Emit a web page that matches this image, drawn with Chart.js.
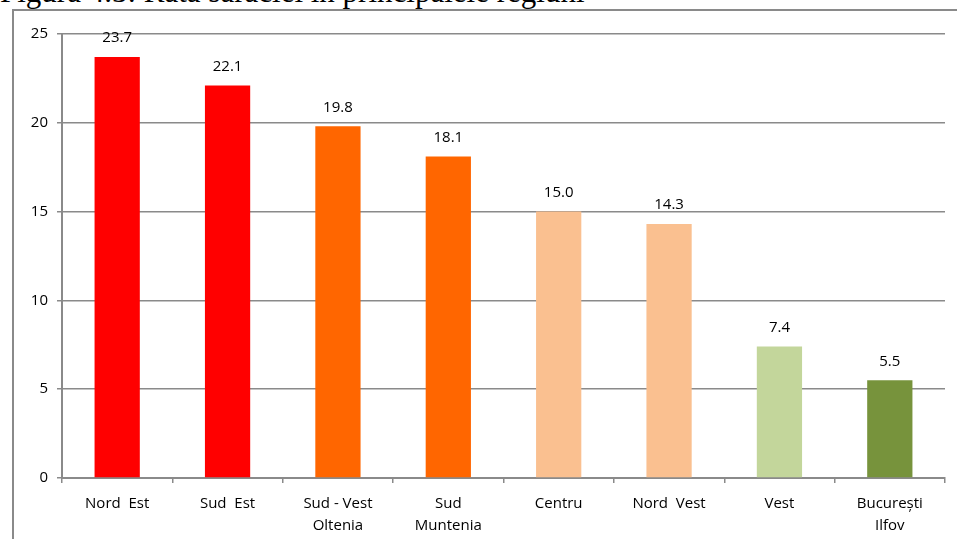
<!DOCTYPE html>
<html>
<head>
<meta charset="utf-8">
<script src="https://cdn.jsdelivr.net/npm/chart.js@4/dist/chart.umd.min.js"></script>
<style>
  html, body { margin: 0; padding: 0; background: #fff; }
  #wrap { position: relative; width: 957px; height: 539px; overflow: hidden; }
  #title { position: absolute; left: 0px; top: -24px; font-family: "Liberation Serif", "DejaVu Serif", serif; font-size: 31px; line-height: 31px; color: #000; white-space: nowrap; }
  #frame { position: absolute; left: 12px; top: 9px; width: 960px; height: 540px; border-left: 2px solid #8a8a8a; border-top: 2px solid #8a8a8a; }
  canvas { position: absolute; left: 0; top: 0; }
</style>
</head>
<body>
<div id="wrap">
  <div id="title">Figura 4.3: Rata sărăciei în principalele regiuni</div>
  <div id="frame"></div>
  <canvas id="c" width="957" height="539"></canvas>
</div>
<script>
const categories = [["Nord  Est"], ["Sud  Est"], ["Sud - Vest", "Oltenia"], ["Sud", "Muntenia"], ["Centru"], ["Nord  Vest"], ["Vest"], ["București", "Ilfov"]];
const povertyRate = [23.7, 22.1, 19.8, 18.1, 15.0, 14.3, 7.4, 5.5];
const barColors = ["#FF0000", "#FF0000", "#FF6600", "#FF6600", "#FAC090", "#FAC090", "#C3D69B", "#77933C"];
const yTicks = [0, 5, 10, 15, 20, 25];

const labelPlugin = {
  id: 'valueLabels',
  afterDatasetsDraw(chart) {
    const ctx = chart.ctx;
    const meta = chart.getDatasetMeta(0);
    ctx.save();
    ctx.font = '15px "Open Sans", "Liberation Sans", sans-serif';
    ctx.fillStyle = '#000';
    ctx.textAlign = 'center';
    ctx.textBaseline = 'middle';
    meta.data.forEach((bar, i) => {
      ctx.fillText(povertyRate[i].toFixed(1), bar.x, bar.y - 19);
    });
    ctx.restore();
  }
};

new Chart(document.getElementById('c'), {
  type: 'bar',
  data: {
    labels: categories,
    datasets: [{
      data: povertyRate,
      backgroundColor: barColors,
      borderWidth: 0,
      categoryPercentage: 1.0,
      barPercentage: 0.41
    }]
  },
  options: {
    responsive: false,
    animation: false,
    devicePixelRatio: 1,
    layout: { padding: { left: 0, right: 12, top: 34, bottom: 0 } },
    plugins: { legend: { display: false }, tooltip: { enabled: false } },
    scales: {
      x: {
        afterFit(scale) { scale.height = 61; },
        grid: { display: true, drawOnChartArea: false, drawTicks: true, tickLength: 5, color: '#8a8a8a', lineWidth: 1.5, offset: true },
        border: { display: true, color: '#8a8a8a', width: 2 },
        ticks: { color: '#000', font: { family: '"Open Sans", "Liberation Sans", sans-serif', size: 15, lineHeight: 1.45 }, padding: 10, maxRotation: 0, autoSkip: false }
      },
      y: {
        min: 0, max: 25,
        afterFit(scale) { scale.width = 62; },
        afterBuildTicks(scale) { scale.ticks = yTicks.map(v => ({ value: v })); },
        grid: { color: '#8a8a8a', lineWidth: 1.5, tickLength: 5, drawTicks: true },
        border: { display: true, color: '#8a8a8a', width: 2 },
        ticks: { color: '#000', font: { family: '"Open Sans", "Liberation Sans", sans-serif', size: 15 }, padding: 9 }
      }
    }
  },
  plugins: [labelPlugin]
});
</script>
</body>
</html>
